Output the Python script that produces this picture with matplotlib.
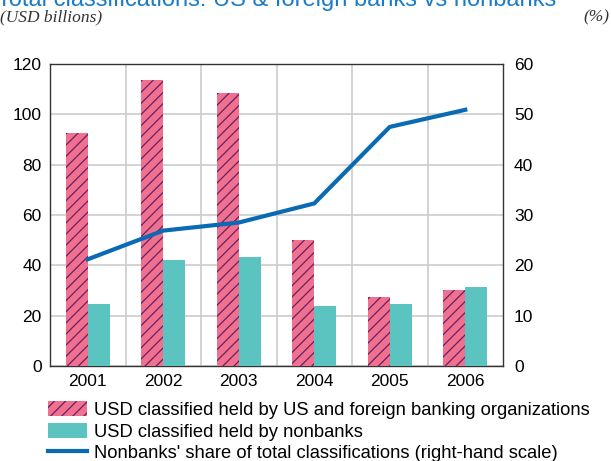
import matplotlib
matplotlib.use("Agg")
import matplotlib.pyplot as plt
import numpy as np
from matplotlib.patches import Patch
from matplotlib.lines import Line2D

# datos
years = ["2001", "2002", "2003", "2004", "2005", "2006"]
banks = [92.5, 113.5, 108.5, 50.0, 27.4, 30.2]
nonbanks = [24.6, 42.1, 43.3, 23.8, 24.6, 31.4]
share = [21.2, 26.9, 28.5, 32.3, 47.5, 50.9]

PINK = "#f07090"
TEAL = "#5bc4c1"
BLUE = "#0a6ab4"
HATCH = "#6a2060"

plt.rcParams["hatch.linewidth"] = 0.9
plt.rcParams["font.family"] = "Liberation Sans"

fig = plt.figure(figsize=(6.11, 4.61), dpi=100)
ax = fig.add_axes([50 / 611, 1 - 366 / 461, 453 / 611, 302 / 461])

x = np.arange(len(years))
w = 0.29
ax.bar(x - w / 2, banks, w, color=PINK, hatch="///", edgecolor=HATCH, linewidth=0, zorder=3)
ax.bar(x + w / 2, nonbanks, w, color=TEAL, linewidth=0, zorder=3)

ax.set_xlim(-0.5, len(years) - 0.5)
ax.set_ylim(0, 120)
ax.set_yticks(range(0, 121, 20))
ax.set_xticks(x)
ax.set_xticklabels(years)
ax.set_xticks(x[:-1] + 0.5, minor=True)
ax.grid(which="minor", axis="x", color="#cccccc", linewidth=1.2, zorder=0)
ax.grid(which="major", axis="y", color="#cccccc", linewidth=1.2, zorder=0)
ax.tick_params(which="both", length=0, labelsize=12.5, pad=6)
for s in ax.spines.values():
    s.set_color("#333333")
    s.set_linewidth(1.0)

ax2 = ax.twinx()
ax2.plot(x, share, color=BLUE, linewidth=3, zorder=4)
ax2.set_ylim(0, 60)
ax2.set_yticks(range(0, 61, 10))
ax2.tick_params(length=0, labelsize=12.5, pad=8)
for s in ax2.spines.values():
    s.set_visible(False)

fig.text(-0.005, 1.0, "Total classifications: US & foreign banks vs nonbanks",
         color="#1a7cc8", fontsize=17, va="center", ha="left")
fig.text(0.0, 0.962, "(USD billions)", fontsize=12.5, style="italic",
         family="Liberation Serif", color="#333333", va="center", ha="left")
fig.text(0.997, 0.962, "(%)", fontsize=12.5, style="italic",
         family="Liberation Serif", color="#333333", va="center", ha="right")

handles = [
    Patch(facecolor=PINK, hatch="///", edgecolor=HATCH, linewidth=0),
    Patch(facecolor=TEAL, linewidth=0),
    Line2D([0], [0], color=BLUE, linewidth=3),
]
labels = [
    "USD classified held by US and foreign banking organizations",
    "USD classified held by nonbanks",
    "Nonbanks' share of total classifications (right-hand scale)",
]
fig.legend(handles, labels, loc="upper left", bbox_to_anchor=(48 / 611, 1 - 401 / 461),
           frameon=False, fontsize=13.2, handlelength=2.15, handleheight=0.9,
           handletextpad=0.38, labelspacing=0.2, borderpad=0, borderaxespad=0)

fig.savefig("out.png", dpi=100)
